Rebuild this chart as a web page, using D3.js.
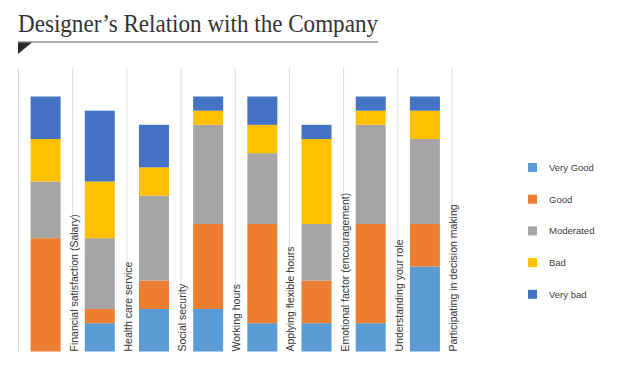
<!DOCTYPE html>
<html>
<head>
<meta charset="utf-8">
<script src="https://cdn.jsdelivr.net/npm/d3@7"></script>
<style>
  body { margin: 0; background: #fff; }
  svg { display: block; }
</style>
</head>
<body>
<div id="chart"></div>
<script>
const categories = [
  "Financial satisfaction (Salary)",
  "Health care service",
  "Social security",
  "Working hours",
  "Applying flexible hours",
  "Emotional factor (encouragement)",
  "Understanding your role",
  "Participating in decision making"
];
const seriesNames = ["Very Good", "Good", "Moderated", "Bad", "Very bad"];
const veryGood  = [0, 2, 3, 3, 2, 2, 2, 6];
const good      = [8, 1, 2, 6, 7, 3, 7, 3];
const moderated = [4, 5, 6, 7, 5, 4, 7, 6];
const bad       = [3, 4, 2, 1, 2, 6, 1, 2];
const veryBad   = [3, 5, 3, 1, 2, 1, 1, 1];
const colors = ["#5b9bd5", "#ed7d31", "#a5a5a5", "#ffc000", "#4472c4"];

const width = 640, height = 370;

const svg = d3.select("#chart")
  .append("svg")
    .attr("width", width)
    .attr("height", height);

// rows for stacking
const rows = categories.map((c, i) => ({
  cat: c,
  "Very Good": veryGood[i],
  "Good": good[i],
  "Moderated": moderated[i],
  "Bad": bad[i],
  "Very bad": veryBad[i]
}));
const stacked = d3.stack().keys(seriesNames)(rows);

const x = d3.scaleBand()
  .domain(categories)
  .range([18.5, 452])
  .padding(0);

const y = d3.scaleLinear()
  .domain([0, 18])
  .range([351.5, 96.5]);

const color = d3.scaleOrdinal().domain(seriesNames).range(colors);

const barW = 30;

// Title
svg.append("text")
  .attr("x", 18)
  .attr("y", 32)
  .attr("textLength", 360)
  .attr("lengthAdjust", "spacingAndGlyphs")
  .style("font-family", "'Liberation Serif', serif")
  .style("font-size", "25px")
  .style("fill", "#333")
  .text("Designer\u2019s Relation with the Company");

svg.append("line")
  .attr("x1", 18).attr("x2", 378)
  .attr("y1", 42).attr("y2", 42)
  .style("stroke", "#8c8c8c")
  .style("stroke-width", 1.5);

svg.append("path")
  .attr("d", "M18,42.5L32,42.5L18,54Z")
  .style("fill", "#2b2b2b");

// vertical gridlines at category boundaries
const bounds = categories.map(c => x(c)).concat([x.range()[1]]);
svg.append("g")
  .selectAll("line")
  .data(bounds)
  .enter()
  .append("line")
    .attr("x1", d => d).attr("x2", d => d)
    .attr("y1", 68).attr("y2", y(0))
    .style("stroke", "#dcdcdc")
    .style("stroke-width", 1);

// stacked bars
svg.append("g")
  .selectAll("g")
  .data(stacked)
  .enter()
  .append("g")
    .style("fill", d => color(d.key))
  .selectAll("rect")
  .data(d => d)
  .enter()
  .append("rect")
    .attr("x", d => x(d.data.cat) + (x.bandwidth() - barW) / 2)
    .attr("y", d => y(d[1]))
    .attr("width", barW)
    .attr("height", d => y(d[0]) - y(d[1]));

// rotated category labels
svg.append("g")
  .selectAll("text")
  .data(categories)
  .enter()
  .append("text")
    .attr("transform", d => `translate(${x(d) + x.bandwidth() + 5},${y(0)}) rotate(-90)`)
    .style("font-family", "'Liberation Sans', Arial, sans-serif")
    .style("font-size", "10.5px")
    .style("fill", "#3a3a3a")
    .style("text-anchor", "start")
    .text(d => d);

// legend
const legend = svg.append("g")
  .selectAll("g")
  .data(seriesNames)
  .enter()
  .append("g")
    .attr("transform", (d, i) => `translate(528,${167.5 + i * 31.7})`);

legend.append("rect")
  .attr("x", 0).attr("y", -4.5)
  .attr("width", 9).attr("height", 9)
  .style("fill", d => color(d));

legend.append("text")
  .attr("x", 21)
  .attr("y", 3.5)
  .style("font-family", "'Liberation Sans', Arial, sans-serif")
  .style("font-size", "9.5px")
  .style("fill", "#404040")
  .text(d => d);
</script>
</body>
</html>
